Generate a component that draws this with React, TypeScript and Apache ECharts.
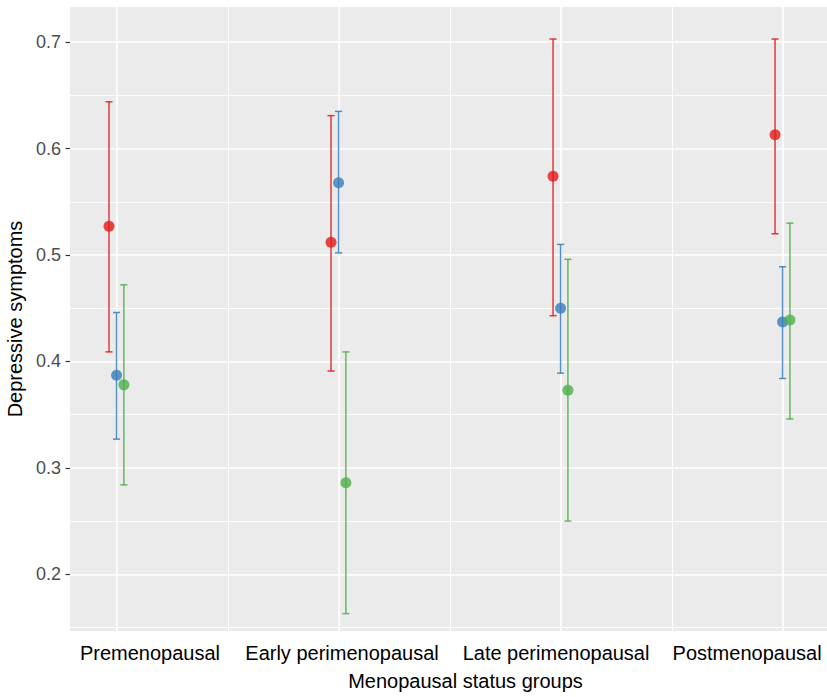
import React, { useEffect, useRef } from "react";
import * as echarts from "echarts";

const categories = ["Premenopausal", "Early perimenopausal", "Late perimenopausal", "Postmenopausal"];

const redMean = [0.527, 0.512, 0.574, 0.613];
const redLower = [0.409, 0.391, 0.443, 0.520];
const redUpper = [0.644, 0.631, 0.703, 0.703];

const blueMean = [0.387, 0.568, 0.450, 0.437];
const blueLower = [0.327, 0.502, 0.389, 0.384];
const blueUpper = [0.446, 0.635, 0.510, 0.489];

const greenMean = [0.378, 0.286, 0.373, 0.439];
const greenLower = [0.284, 0.163, 0.250, 0.346];
const greenUpper = [0.472, 0.409, 0.496, 0.530];

const yTicks = [0.2, 0.3, 0.4, 0.5, 0.6, 0.7];
const yMinor = [0.15, 0.25, 0.35, 0.45, 0.55, 0.65];
const xTicks = [1, 2, 3, 4];
const xMinor = [1.5, 2.5, 3.5];
// where the category labels sit along the x scale (they are not centred on the ticks in the reference)
const xLabelPos = [1.1487, 2.0135, 2.9775, 3.838];

const groups = [
  { name: "red", color: "#E41A1C", mean: redMean, lower: redLower, upper: redUpper, dodge: -0.036 },
  { name: "blue", color: "#377EB8", mean: blueMean, lower: blueLower, upper: blueUpper, dodge: -0.002 },
  { name: "green", color: "#4DAF4A", mean: greenMean, lower: greenLower, upper: greenUpper, dodge: 0.031 },
];

const CAP_HALF = 0.016;
const FONT = "'Liberation Sans', Arial, sans-serif";

export default function App() {
  const ref = useRef<HTMLDivElement>(null);
  useEffect(() => {
    document.body.style.margin = "0";
    if (!ref.current) return;
    const chart = echarts.init(ref.current, null, { renderer: "svg" });

    const series: any[] = [];
    series.push({
      type: "scatter",
      data: [],
      z: 0,
      silent: true,
      markLine: {
        silent: true,
        z: 0,
        symbol: ["none", "none"],
        label: { show: false },
        animation: false,
        data: [
          ...yMinor.map((v) => ({ yAxis: v, lineStyle: { color: "#FFFFFF", width: 0.9, type: "solid" } })),
          ...yTicks.map((v) => ({ yAxis: v, lineStyle: { color: "#FFFFFF", width: 1.6, type: "solid" } })),
          ...xMinor.map((v) => ({ xAxis: v, lineStyle: { color: "#FFFFFF", width: 0.9, type: "solid" } })),
          ...xTicks.map((v) => ({ xAxis: v, lineStyle: { color: "#FFFFFF", width: 1.6, type: "solid" } })),
        ],
      },
    });

    groups.forEach((g) => {
      series.push({
        type: "custom",
        name: g.name + "-err",
        z: 2,
        silent: true,
        encode: { x: 0, y: [1, 2] },
        data: g.mean.map((_, i) => [i + 1 + g.dodge, g.lower[i], g.upper[i]]),
        renderItem: (params: any, api: any) => {
          const x = api.value(0);
          const lo = api.value(1);
          const hi = api.value(2);
          const pLo = api.coord([x, lo]);
          const pHi = api.coord([x, hi]);
          const xl = api.coord([x - CAP_HALF, lo])[0];
          const xr = api.coord([x + CAP_HALF, lo])[0];
          const style = { stroke: g.color, lineWidth: 1.5, opacity: 0.85 };
          return {
            type: "group",
            children: [
              { type: "line", shape: { x1: pLo[0], y1: pLo[1], x2: pHi[0], y2: pHi[1] }, style },
              { type: "line", shape: { x1: xl, y1: pLo[1], x2: xr, y2: pLo[1] }, style },
              { type: "line", shape: { x1: xl, y1: pHi[1], x2: xr, y2: pHi[1] }, style },
            ],
          };
        },
      });
      series.push({
        type: "scatter",
        name: g.name,
        z: 3,
        symbol: "circle",
        symbolSize: 11,
        itemStyle: { color: g.color },
        data: g.mean.map((m, i) => [i + 1 + g.dodge, m]),
      });
    });

    chart.setOption({
      animation: false,
      backgroundColor: "#FFFFFF",
      textStyle: { fontFamily: FONT },
      grid: {
        left: 70,
        right: 0,
        top: 7,
        bottom: 66,
        show: true,
        backgroundColor: "#EBEBEB",
        borderWidth: 0,
        containLabel: false,
        outerBoundsMode: "none",
      },
      xAxis: {
        type: "value",
        min: 0.7883,
        max: 4.198,
        name: "Menopausal status groups",
        nameLocation: "middle",
        nameGap: 40,
        nameTextStyle: { fontSize: 20, color: "#000000", fontFamily: FONT, padding: [0, 0, 0, 34] },
        axisLine: { show: false },
        axisTick: { show: false },
        splitLine: { show: false },
        axisLabel: {
          customValues: xLabelPos,
          margin: 12,
          fontSize: 20,
          color: "#000000",
          fontFamily: FONT,
          hideOverlap: false,
          formatter: (v: number) => {
            let best = 0;
            xLabelPos.forEach((p, i) => {
              if (Math.abs(p - v) < Math.abs(xLabelPos[best] - v)) best = i;
            });
            return categories[best];
          },
        },
      },
      yAxis: {
        type: "value",
        min: 0.1467,
        max: 0.7331,
        name: "Depressive symptoms",
        nameLocation: "middle",
        nameGap: 33,
        nameTextStyle: { fontSize: 20, color: "#000000", fontFamily: FONT },
        axisLine: { show: false },
        axisTick: { show: true, customValues: yTicks, length: 4.5, lineStyle: { color: "#333333", width: 1.2 } },
        splitLine: { show: false },
        axisLabel: {
          customValues: yTicks,
          margin: 9,
          fontSize: 18,
          color: "#4D4D4D",
          fontFamily: FONT,
          formatter: (v: number) => v.toFixed(1),
        },
      },
      series,
    });
    return () => chart.dispose();
  }, []);
  return <div ref={ref} style={{ width: 827, height: 697 }} />;
}
